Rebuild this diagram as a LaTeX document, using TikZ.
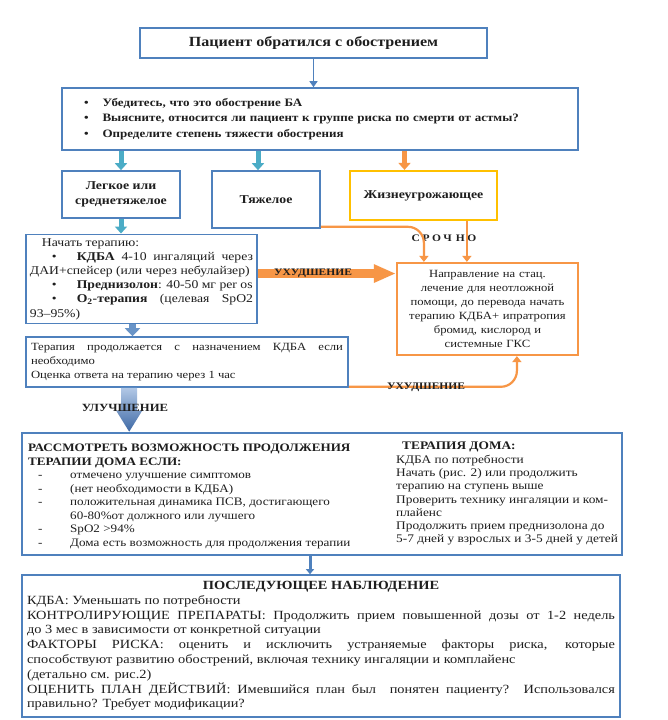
\documentclass[tikz,border=0pt]{standalone}
\usepackage{fontspec}
\setmainfont{Liberation Serif}[FakeStretch=1.15]
\usepackage{tikz}
\usetikzlibrary{arrows.meta,positioning,calc}
\definecolor{boxblue}{RGB}{79,129,189}
\definecolor{aqua}{RGB}{75,172,198}
\definecolor{orng}{RGB}{247,150,70}
\definecolor{gold}{RGB}{255,192,0}
\definecolor{ink}{RGB}{30,30,30}
\definecolor{imptop}{RGB}{178,200,230}
\definecolor{impbot}{RGB}{62,105,165}
\newcommand\fsz[2]{\fontsize{#1pt}{#2pt}\selectfont}
\newcommand\dsh{\makebox[42pt][l]{\hspace*{10pt}-}}

\begin{document}
\begin{tikzpicture}[x=1pt,y=-1pt, every node/.style={text=ink,inner sep=4pt,execute at begin node=\parindent0pt}, box/.style={draw=boxblue,line width=1.6pt,rectangle}, lvl/.style={aqua,line width=5pt,-{Triangle[width=12pt,length=7pt]}}, urg/.style={orng,line width=2.2pt,rounded corners=16pt,-{Triangle[width=9pt,length=6pt]}}, wrs/.style={orng,line width=9pt,-{Triangle[width=17pt,length=22pt]}}, lab/.style={font=\fsz{10}{12}\bfseries}, thin/.style={boxblue,line width=1.2pt,-{Triangle[width=8pt,length=6pt]}}]
  \fill[white] (0,0) rectangle (668,720);
  \useasboundingbox (0,0) rectangle (668,720);
  \node[box,line width=1.2pt,minimum width=347pt,minimum height=30pt,font=\fsz{14}{16}\bfseries] (pat) at (313.5,43) {Пациент обратился с обострением};
  \node[box,minimum width=516pt,minimum height=62pt,text width=490pt,align=left,font=\fsz{11.3}{15.5}\bfseries] (chk) at (320,119) {\hspace*{9pt}\textbullet\hspace{14pt}Убедитесь, что это обострение БА\\ \hspace*{9pt}\textbullet\hspace{14pt}Выясните, относится ли пациент к группе риска по смерти от астмы?\\ \hspace*{9pt}\textbullet\hspace{14pt}Определите степень тяжести обострения};
  \node[box,minimum width=118pt,minimum height=47pt,align=center,font=\fsz{12}{15}\bfseries] (mild) at (121,194.5) {Легкое или\\среднетяжелое};
  \node[box,minimum width=108pt,minimum height=57pt,font=\fsz{12}{15}\bfseries] (sev) at (266,199.5) {Тяжелое};
  \node[draw=gold,line width=2.2pt,minimum width=147pt,minimum height=49pt,font=\fsz{12}{15}\bfseries] (life) at (423.5,195.5) {Жизнеугрожающее};
  \node[box,minimum width=231pt,minimum height=84pt,text width=223pt,align=justify,font=\fsz{11.9}{14.2}] (ther) at (141.5,279) {\hspace*{12pt}Начать терапию:\par \hspace*{22pt}\textbullet\hspace{20pt}\textbf{КДБА} 4-10 ингаляций через\linebreak ДАИ+спейсер (или через небулайзер)\par \hspace*{22pt}\textbullet\hspace{20pt}\textbf{Преднизолон}: 40-50 мг per os\par \hspace*{22pt}\textbullet\hspace{20pt}\textbf{O\textsubscript{2}-терапия} (целевая SpO2\linebreak 93–95\%)};
  \node[box,minimum width=322pt,minimum height=50pt,text width=312pt,align=justify,font=\fsz{11}{14}] (cont) at (187,362) {Терапия продолжается с назначением КДБА если\linebreak необходимо\par Оценка ответа на терапию через 1 час};
  \node[draw=orng,line width=2.2pt,minimum width=181pt,minimum height=92pt,text width=173pt,align=center,font=\fsz{11}{14}] (hosp) at (487.5,309) {Направление на стац.\\ лечение для неотложной\\ помощи, до перевода начать\\ терапию КДБА+ ипратропия\\ бромид, кислород и\\ системные ГКС};
  \node[box,line width=2.6pt,minimum width=600pt,minimum height=122pt] (home) at (322,494) {};
  \node[anchor=north west,align=left,font=\fsz{11.4}{13.5}] (homeif) at (24,440) {\textbf{РАССМОТРЕТЬ ВОЗМОЖНОСТЬ ПРОДОЛЖЕНИЯ}\\ \textbf{ТЕРАПИИ ДОМА ЕСЛИ:}\\ \dsh отмечено улучшение симптомов\\ \dsh (нет необходимости в КДБА)\\ \dsh положительная динамика ПСВ, достигающего\\ \hspace*{42pt}60-80\%от должного или лучшего\\ \dsh SpO2 >94\%\\ \dsh Дома есть возможность для продолжения терапии};
  \node[anchor=north west,align=left,font=\fsz{11.6}{13.3}] (homerx) at (392,438) {\hspace*{6pt}\textbf{ТЕРАПИЯ ДОМА:}\\ КДБА по потребности\\ Начать (рис. 2) или продолжить\\ терапию на ступень выше\\ Проверить технику ингаляции и ком-\\ плайенс\\ Продолжить прием преднизолона до\\ 5-7 дней у взрослых и 3-5 дней у детей};
  \node[box,minimum width=598pt,minimum height=142pt,text width=588pt,align=justify,font=\fsz{12.5}{14.8}] (follow) at (321,646) {{\centering\textbf{ПОСЛЕДУЮЩЕЕ НАБЛЮДЕНИЕ}\par} КДБА: Уменьшать по потребности\par КОНТРОЛИРУЮЩИЕ ПРЕПАРАТЫ: Продолжить прием повышенной дозы от 1-2 недель\linebreak до 3 мес в зависимости от конкретной ситуации\par ФАКТОРЫ РИСКА: оценить и исключить устраняемые факторы риска, которые\linebreak способствуют развитию обострений, включая технику ингаляции и комплайенс\par (детально см. рис.2)\par ОЦЕНИТЬ ПЛАН ДЕЙСТВИЙ: Имевшийся план был \ понятен пациенту? Использовался\linebreak правильно? Требует модификации?};
  \node[font=\fsz{10}{12}\bfseries] (urgent) at (444,238) {С\hspace{2.5pt}Р\hspace{2.5pt}О\hspace{2.5pt}Ч\hspace{4pt}Н\hspace{2.5pt}О};
  \coordinate (sv) at ($(sev.north)+(-8,0)$);
  \coordinate (lf) at ($(life.north)+(-19,0)$);
  \coordinate (ua) at ($(hosp.north west)+(28,0)$);
  \coordinate (ub) at ($(hosp.north west)+(71,0)$);
  \coordinate (uc) at ($(hosp.south west)+(121,0)$);
  \coordinate (tc) at ($(ther.south)+(-9,0)$);
  \coordinate (ux) at ($(cont.south west)+(104,0)$);
  \coordinate (wo) at ($(ther.north east)!.44!(ther.south east)$);
  \coordinate (dn) at ($(home.south)+(-12,0)$);
  \draw[thin] (pat.south) -- (pat.south |- chk.north);
  \draw[lvl] (mild.north |- chk.south) -- (mild.north);
  \draw[lvl] (sv |- chk.south) -- (sv);
  \draw[lvl,orng] (lf |- chk.south) -- (lf);
  \draw[lvl] (mild.south) -- (mild.south |- ther.north);
  \draw[boxblue!85,line width=7pt,-{Triangle[width=15pt,length=8pt]}] (tc) -- (tc |- cont.north);
  \draw[urg] ([yshift=2pt]sev.south east) -| (ua);
  \draw[urg] (life.south -| ub) -- (ub);
  \draw[wrs] (wo) -- node[lab,pos=.4] {УХУДШЕНИЕ} (wo -| hosp.west);
  \draw[urg] ([yshift=1pt]cont.south east) -| node[lab,pos=.23] {УХУДШЕНИЕ} (uc);
  \shade[top color=imptop,bottom color=impbot] ($(ux |- cont.south)+(-8,0)$) -- ($(ux |- cont.south)+(8,0)$) -- ($(ux |- home.north)+(8,-21)$) -- ($(ux |- home.north)+(13,-21)$) -- (ux |- home.north) -- ($(ux |- home.north)+(-13,-21)$) -- ($(ux |- home.north)+(-8,-21)$) -- cycle;
  \node[lab,font=\fsz{11}{13}\bfseries] (better) at (125,408) {УЛУЧШЕНИЕ};
  \draw[boxblue,line width=3pt,-{Triangle[width=8pt,length=5pt]}] (dn) -- (dn |- follow.north);
\end{tikzpicture}
\end{document}
